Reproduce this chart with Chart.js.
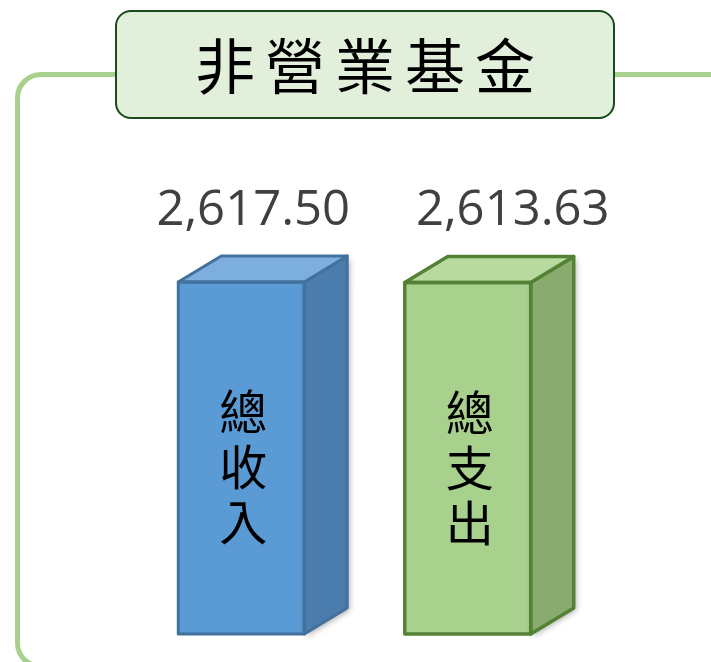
<!DOCTYPE html>
<html>
<head>
<meta charset="utf-8">
<script src="https://cdn.jsdelivr.net/npm/chart.js@4.4.0/dist/chart.umd.min.js"></script>
<style>
html, body { margin: 0; padding: 0; width: 711px; height: 662px; overflow: hidden; background: #fff; }
#frame { position: absolute; left: 15px; top: 72px; width: 800px; height: 597px; box-sizing: border-box;
         border: 5px solid #A9D18E; border-radius: 26px; }
#wrap { position: absolute; left: 0; top: 0; width: 711px; height: 662px; }
#title { position: absolute; left: 115px; top: 10px; width: 500px; height: 109px; box-sizing: border-box;
         background: #E2EFDA; border: 2.5px solid #1A4A1A; border-radius: 16px;
         font-family: "Noto Sans CJK TC"; font-weight: 400; font-size: 60px; line-height: 102px; text-align: center;
         letter-spacing: 10px; padding-left: 10px; color: #000; }
</style>
</head>
<body>
<div id="frame"></div>
<div id="wrap"><canvas id="fundChart"></canvas></div>
<div id="title">非營業基金</div>
<script>
// 資料
const categories = ['總收入', '總支出'];
const values = [2617.50, 2613.63];
const frontColors = ['#5B9BD5', '#A9D18E'];
const topColors = ['#7CAFDD', '#B8DAA1'];
const sideColors = ['#4A7DAD', '#8AAB6F'];
const edgeColors = ['#41719C', '#548235'];

// 立體長條 + 文字
const box3d = {
    id: 'box3d',
    afterDatasetsDraw(chart, args, opts) {
        const ctx = chart.ctx;
        const meta = chart.getDatasetMeta(0);
        meta.data.forEach((bar, i) => {
            const left = bar.x - bar.width / 2;
            const right = bar.x + bar.width / 2;
            const top = bar.y;
            const bottom = bar.base;
            const dx = opts.dx, dy = opts.dy;
            ctx.save();
            ctx.lineWidth = opts.lineWidth[i];
            ctx.strokeStyle = edgeColors[i];
            ctx.lineJoin = 'round';

            // 側面
            ctx.beginPath();
            ctx.moveTo(right, top);
            ctx.lineTo(right + dx, top + dy);
            ctx.lineTo(right + dx, bottom + dy);
            ctx.lineTo(right, bottom);
            ctx.closePath();
            ctx.save();
            ctx.shadowColor = 'rgba(0,0,0,0.35)';
            ctx.shadowBlur = 6;
            ctx.shadowOffsetX = 2;
            ctx.shadowOffsetY = 2;
            ctx.fillStyle = sideColors[i];
            ctx.fill();
            ctx.restore();
            ctx.stroke();

            // 頂面
            ctx.beginPath();
            ctx.moveTo(left, top);
            ctx.lineTo(left + dx, top + dy);
            ctx.lineTo(right + dx, top + dy);
            ctx.lineTo(right, top);
            ctx.closePath();
            ctx.fillStyle = topColors[i];
            ctx.fill();
            ctx.stroke();

            // 正面外框
            ctx.strokeRect(left, top, right - left, bottom - top);

            // 數值
            ctx.fillStyle = '#404040';
            ctx.font = '49px "Open Sans"';
            ctx.textAlign = 'center';
            ctx.textBaseline = 'alphabetic';
            const txt = values[i].toLocaleString('en-US', { minimumFractionDigits: 2 });
            ctx.fillText(txt, bar.x + opts.labelDx[i], top - 57);

            // 直書類別
            ctx.fillStyle = '#000';
            ctx.font = '48px "Noto Sans CJK TC"';
            ctx.textBaseline = 'middle';
            const chars = chart.data.labels[i].split('');
            chars.forEach((c, k) => {
                ctx.fillText(c, bar.x + 2, top + 130 + k * 55);
            });
            ctx.restore();
        });
    }
};

const ctx = document.getElementById('fundChart').getContext('2d');
const fundChart = new Chart(ctx, {
    type: 'bar',
    data: {
        labels: categories,
        datasets: [{
            data: values,
            backgroundColor: frontColors,
            borderColor: edgeColors,
            borderWidth: 0,
            barPercentage: 0.556,
            categoryPercentage: 1
        }]
    },
    options: {
        responsive: true,
        maintainAspectRatio: false,
        animation: false,
        devicePixelRatio: 1,
        layout: { padding: { top: 96, bottom: 28, left: 128, right: 130 } },
        scales: {
            x: { display: false },
            y: { display: false, min: 0, max: 4000 }
        },
        plugins: {
            legend: { display: false },
            tooltip: { enabled: false },
            box3d: { dx: 43, dy: -26, lineWidth: [3, 3.5], labelDx: [12, 45] }
        }
    },
    plugins: [box3d]
});
</script>
</body>
</html>
